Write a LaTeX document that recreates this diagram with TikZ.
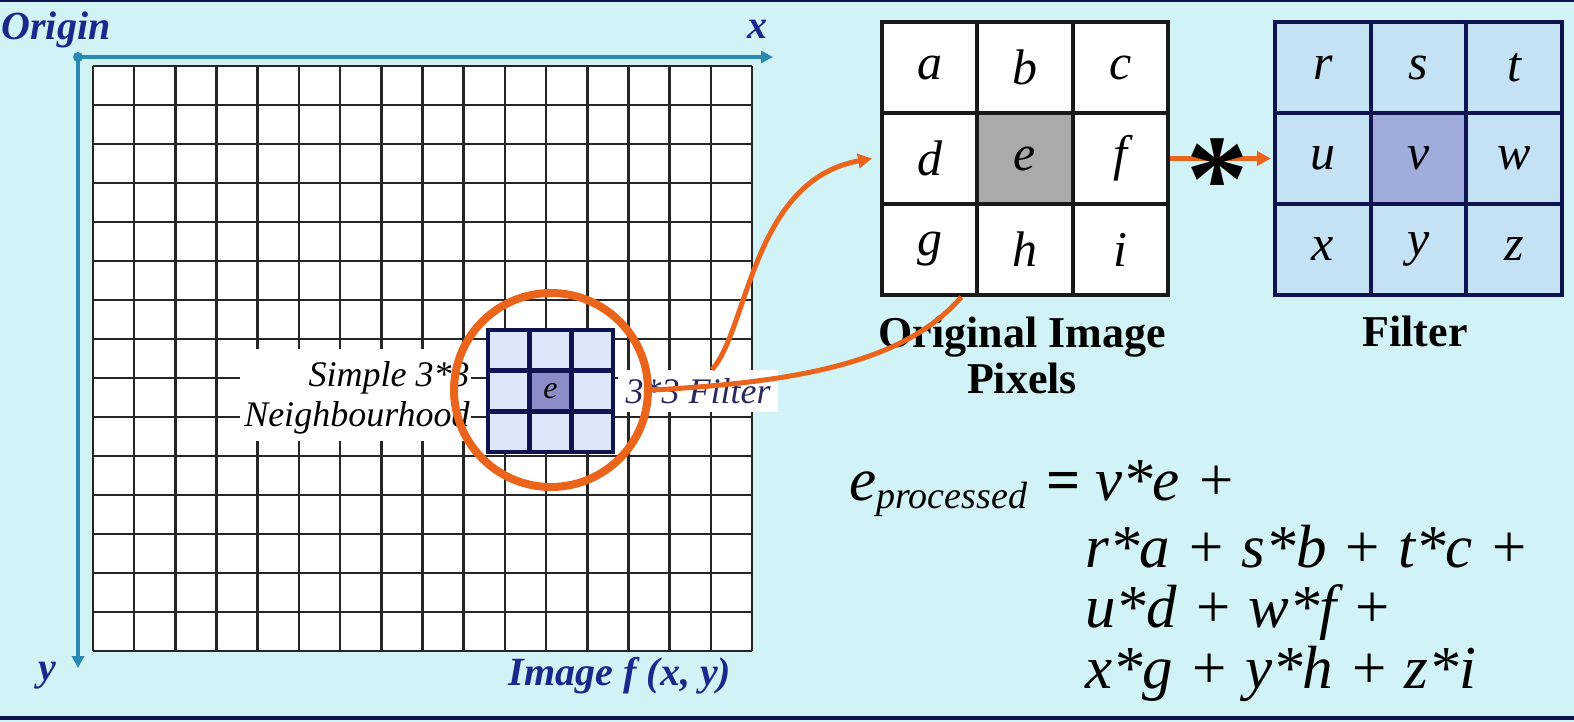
\documentclass[tikz,border=0pt]{standalone}
\usepackage{fontspec}
\setmainfont{Liberation Serif}
\usetikzlibrary{arrows.meta}
\definecolor{bg}{RGB}{210,243,246}
\definecolor{navy}{RGB}{26,40,140}
\definecolor{bordernavy}{RGB}{15,20,80}
\definecolor{axisblue}{RGB}{40,138,178}
\definecolor{orng}{RGB}{234,100,28}
\definecolor{filtfill}{RGB}{196,226,244}
\definecolor{filtctr}{RGB}{160,172,220}
\definecolor{smallfill}{RGB}{222,230,250}
\definecolor{smallctr}{RGB}{140,140,200}
\definecolor{pixgray}{RGB}{170,170,170}
\definecolor{labtxt}{RGB}{40,40,95}
\begin{document}
\begin{tikzpicture}[x=0.5pt,y=-0.5pt,
  gridln/.style={line width=1.3pt, draw=black!85},
  axisln/.style={line width=2pt, draw=axisblue, -{Triangle[length=6pt,width=6pt]}},
  axlbl/.style={font=\bfseries\itshape\fontsize{20}{20}\selectfont, text=navy, inner sep=0pt},
  pixcell/.style={draw=black!90, line width=2pt, fill=white, minimum width=47.67pt, minimum height=45.5pt, inner sep=0pt, font=\itshape\fontsize{25}{25}\selectfont},
  filtcell/.style={draw=bordernavy, line width=2pt, fill=filtfill, minimum width=47.83pt, minimum height=45.5pt, inner sep=0pt, font=\itshape\fontsize{25}{25}\selectfont},
  smallcell/.style={draw=bordernavy, line width=2.4pt, fill=smallfill, minimum width=20.83pt, minimum height=20.33pt, inner sep=0pt, font=\itshape\fontsize{16}{16}\selectfont},
  boldlbl/.style={font=\bfseries\fontsize{22}{22}\selectfont, inner sep=0pt},
  eqtxt/.style={font=\itshape\fontsize{30.5}{30.5}\selectfont, inner sep=0pt, anchor=base west},
  conn/.style={draw=orng, line width=2.5pt},
  connarrow/.style={conn, -{Triangle[length=7pt,width=7pt]}},
  nbtxt/.style={font=\itshape\fontsize{18}{18}\selectfont, inner sep=0pt, anchor=base east}
]
\useasboundingbox (0,0) rectangle (1574,722);
\fill[bg] (0,0) rectangle (1574,722);
\fill[bordernavy] (0,0) rectangle (1574,2);
\fill[bordernavy] (0,716) rectangle (1574,720);

% image grid
\fill[white] (93,66) rectangle (752,651);
\foreach \i in {0,...,16} \draw[gridln] ({93+\i*659/16},66) -- ({93+\i*659/16},651);
\foreach \j in {0,...,15} \draw[gridln] (93,{66+\j*39}) -- (752,{66+\j*39});

% axes
\coordinate (O) at (78,57);
\coordinate (xend) at (773,57);
\coordinate (yend) at (78,668);
\draw[axisln] (O) -- (xend);
\draw[axisln] (O) -- (yend);
\fill[axisblue] (O) circle (5);
\node[axlbl] (origin) at (56,30) {Origin};
\node[axlbl] (xlab) at (757,29) {x};
\node[axlbl] (ylab) at (47,676) {y};
\node[axlbl] (imglab) at (620,676) {Image f (x, y)};

% neighbourhood labels
\node[fill=white, minimum width=115.5pt, minimum height=46pt, inner sep=0pt] (nbbox) at (355.5,395) {};
\node[nbtxt] (simple) at (470,386) {Simple 3*3};
\node[nbtxt] (neigh) at (470,426) {Neighbourhood};

% small filter
\node[smallcell] (s1) at (508.8,350.3) {};
\node[smallcell] (s2) at (550.5,350.3) {};
\node[smallcell] (s3) at (592.2,350.3) {};
\node[smallcell] (s4) at (508.8,391) {};
\node[smallcell, fill=smallctr] (s5) at (550.5,391) {e};
\node[smallcell] (s6) at (592.2,391) {};
\node[smallcell] (s7) at (508.8,431.7) {};
\node[smallcell] (s8) at (550.5,431.7) {};
\node[smallcell] (s9) at (592.2,431.7) {};

% 3*3 filter label
\node[fill=white, minimum width=80pt, minimum height=21pt, inner sep=0pt, font=\itshape\fontsize{18}{18}\selectfont, text=labtxt] (flab) at (698,391) {3*3 Filter};

% orange ring
\node[draw=orng, line width=4pt, circle, minimum size=97pt, inner sep=0pt] (ring) at (551,390) {};

% original pixels
\node[pixcell] (pa) at (929.7,67.5) {a};
\node[pixcell] (pb) at (1025,67.5) {b};
\node[pixcell] (pc) at (1120.3,67.5) {c};
\node[pixcell] (pd) at (929.7,158.5) {d};
\node[pixcell, fill=pixgray] (pe) at (1025,158.5) {e};
\node[pixcell] (pf) at (1120.3,158.5) {f};
\node[pixcell] (pg) at (929.7,249.5) {g};
\node[pixcell] (ph) at (1025,249.5) {h};
\node[pixcell] (pi) at (1120.3,249.5) {i};
\node[boldlbl, anchor=base] (origlab) at (1022,347) {Original Image};
\node[boldlbl, anchor=base] (pixlab) at (1022,393) {Pixels};

% filter
\node[filtcell] (fr) at (1322.8,67.5) {r};
\node[filtcell] (fs) at (1418.5,67.5) {s};
\node[filtcell] (ft) at (1514.2,67.5) {t};
\node[filtcell] (fu) at (1322.8,158.5) {u};
\node[filtcell, fill=filtctr] (fv) at (1418.5,158.5) {v};
\node[filtcell] (fw) at (1514.2,158.5) {w};
\node[filtcell] (fx) at (1322.8,249.5) {x};
\node[filtcell] (fy) at (1418.5,249.5) {y};
\node[filtcell] (fz) at (1514.2,249.5) {z};
\node[boldlbl, anchor=base] (filtlab) at (1415,346) {Filter};

% connectors
\draw[connarrow] ([xshift=7pt]flab.north) .. controls (748,330) and (752,180) .. ([xshift=-4pt]pd.west);
\draw[conn] (ring.east) .. controls (800,382) and (905,362) .. ([xshift=-9pt]pg.south east);
\draw[connarrow] (pf.east) -- ([xshift=-1pt]fu.west);
\node[font=\bfseries\fontsize{62}{62}\selectfont, inner sep=0pt] (star) at (1217,180) {*};

% equation
\node[eqtxt] (elhs) at (849,500) {e\raisebox{-4pt}{\fontsize{19}{19}\selectfont processed}};
\node[eqtxt, font=\bfseries\fontsize{30}{30}\selectfont] (eqsign) at (1046,500) {=};
\node[eqtxt] (l1) at (1095,500) {v*e +};
\node[eqtxt] (l2) at (1085,567) {r*a + s*b + t*c +};
\node[eqtxt] (l3) at (1085,627) {u*d + w*f +};
\node[eqtxt] (l4) at (1085,688) {x*g + y*h + z*i};
\end{tikzpicture}
\end{document}
